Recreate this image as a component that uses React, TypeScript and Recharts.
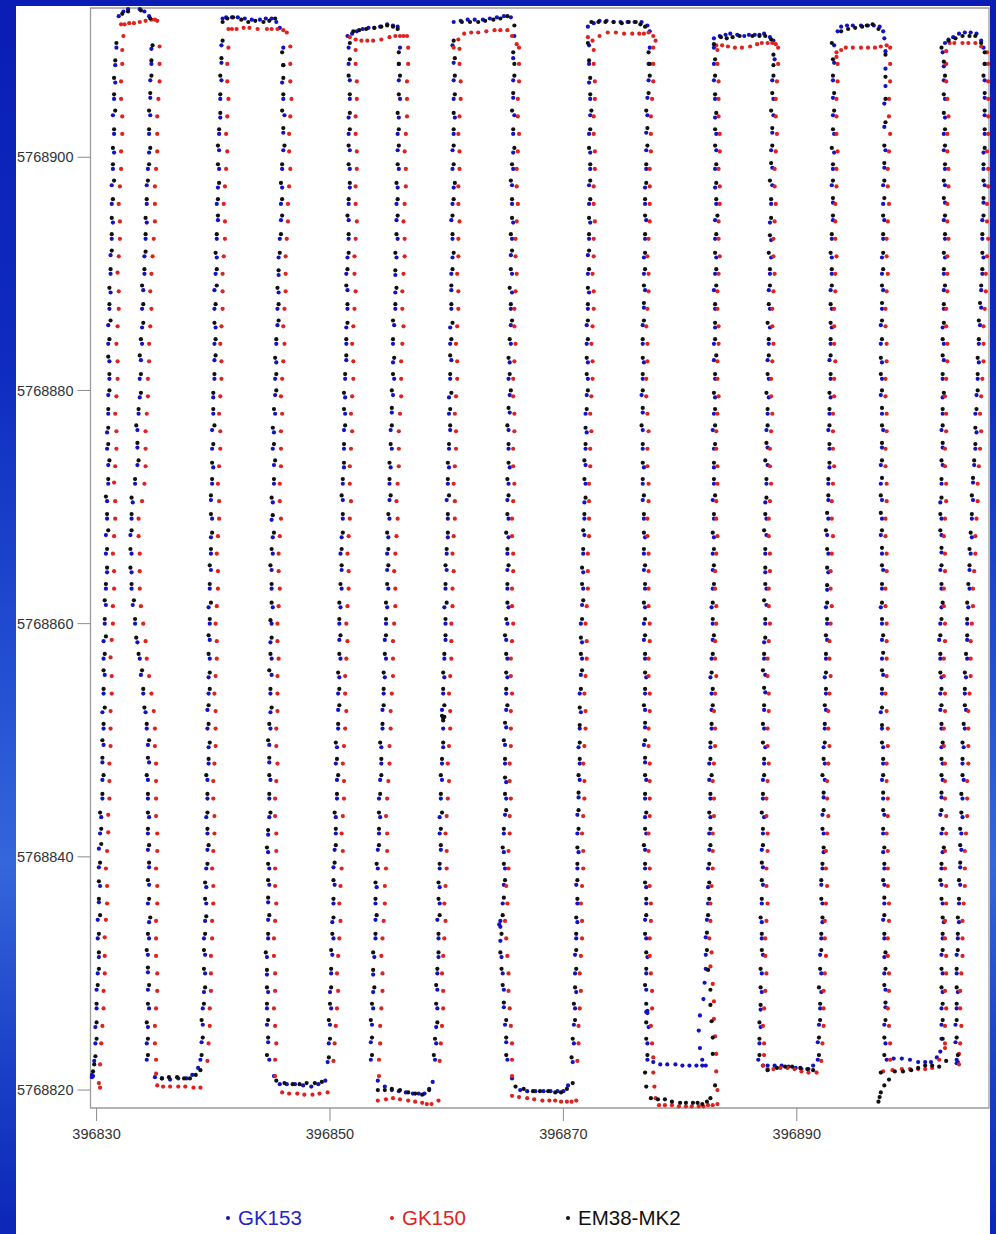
import React from 'react';
import { ScatterChart, Scatter, XAxis, YAxis, ReferenceArea, Legend } from 'recharts';

// Local grid origin (Gauss-Krueger easting / northing). Point values below are decimetres from it.
const EAST_ORIGIN = 396800;
const NORTH_ORIGIN = 5768800;

const X_TICKS = [396830, 396850, 396870, 396890];
const Y_TICKS = [5768820, 5768840, 5768860, 5768880, 5768900];
const X_RANGE: [number, number] = [396829.48, 396906.47];
const Y_RANGE: [number, number] = [5768818.46, 5768912.8];

const SERIES_NAMES = ['GK153', 'GK150', 'EM38-MK2'];
const SERIES_COLORS = ['#1212c4', '#e0221e', '#101010'];
const LEGEND_TEXT_COLORS = ['#2424c8', '#e0221e', '#101010'];

// GK153 readings [easting dm, northing dm]
const GK153: number[][] = [
  [296,211],[297,212],[296,213],
  [298,225],[299,254],[300,286],[302,314],[301,346],[303,375],[302,407],[304,434],[305,466],[306,496],[305,524],[307,556],[306,585],[308,616],[309,644],[308,676],[309,705],[310,736],[309,764],[310,796],[311,825],[310,856],[312,884],[312,916],[314,944],[313,976],[315,1004],[314,1036],[316,1064],[317,1094],
  [319,1121],[327,1127],[337,1127],[345,1121],
  [347,1093],[346,1066],[346,1036],[345,1004],[343,976],[343,944],[341,915],[340,886],[339,854],[338,826],[337,794],[335,766],[335,736],[331,704],[329,676],[330,644],[331,616],[335,584],[338,556],[342,524],[344,496],[344,466],[345,434],[344,406],[345,376],[345,344],[344,316],[344,286],[344,254],[343,226],
  [350,211],[363,209],[377,210],[387,219],
  [389,226],[391,256],[392,284],[393,316],[393,345],[394,374],[395,406],[394,434],[395,466],[396,494],[395,526],[396,554],[397,586],[396,614],[398,646],[398,674],[398,706],[400,734],[399,766],[400,794],[401,826],[402,854],[401,886],[403,914],[404,946],[404,974],[405,1006],[406,1034],[407,1066],[407,1096],
  [408,1119],[416,1120],[427,1119],[440,1118],[450,1119],[457,1111],
  [460,1094],[459,1064],[461,1036],[460,1006],[459,974],[458,946],[456,914],[456,884],[455,856],[454,824],[453,796],[452,764],[452,736],[451,704],[451,674],[450,646],[451,614],[449,584],[450,556],[449,524],[448,496],[449,466],[448,434],[447,404],[448,376],[447,346],[446,314],[447,284],[446,256],[448,226],
  [457,205],[470,205],[484,203],[496,208],
  [498,224],[500,256],[500,284],[502,316],[502,344],[504,376],[504,406],[505,434],[506,466],[506,494],[507,526],[508,554],[508,586],[509,614],[510,646],[510,674],[511,706],[512,734],[512,766],[513,794],[514,826],[514,854],[515,886],[515,914],[516,946],[517,974],[517,1006],[516,1034],[517,1066],[516,1094],
  [515,1104],[523,1108],[533,1111],[543,1112],[549,1114],[558,1112],
  [560,1094],[559,1066],[559,1034],[558,1006],[558,974],[557,946],[557,914],[556,884],[555,856],[554,824],[554,796],[552,766],[552,734],[551,706],[550,674],[549,646],[549,614],[547,586],[547,554],[545,526],[544,494],[543,466],[543,434],[541,406],[540,374],[539,346],[538,314],[537,284],[536,256],[535,226],
  [547,203],[559,199],[571,197],[581,197],[588,207],
  [590,226],[591,254],[592,286],[593,314],[592,346],[594,374],[595,406],[594,434],[596,466],[597,494],[596,526],[598,554],[599,586],[598,614],[600,646],[601,674],[600,706],[602,734],[603,766],[602,794],[604,826],[603,854],[604,886],[605,914],[604,946],[606,974],[605,1006],[607,1034],[606,1066],[605,1096],
  [606,1116],[618,1118],[631,1118],[643,1120],[655,1120],
  [658,1104],[657,1066],[658,1036],[657,1004],[656,976],[657,944],[655,916],[656,884],[655,856],[654,824],[654,796],[653,766],[654,734],[652,706],[653,674],[652,646],[653,614],[651,586],[652,554],[651,526],[650,496],[651,464],[650,436],[649,404],[649,376],[646,345],[645,342],[646,340],[647,314],[649,286],[650,256],[652,226],
  [663,200],[676,199],[689,199],[700,199],
  [708,224],[709,256],[711,284],[710,316],[712,344],[711,376],[713,404],[712,436],[714,466],[713,494],[715,524],[715,556],[716,584],[716,616],[717,644],[718,676],[718,704],[719,736],[720,764],[720,796],[721,824],[720,856],[722,884],[721,916],[723,944],[722,976],[723,1004],[723,1036],[722,1064],[722,1096],
  [721,1112],[731,1117],[743,1116],[755,1116],[767,1116],[774,1108],
  [774,1094],[773,1066],[772,1036],[771,1006],[770,974],[771,946],[769,914],[770,886],[768,856],[769,824],[767,796],[768,766],[769,734],[768,706],[770,674],[769,646],[770,614],[769,586],[771,554],[770,526],[769,496],[771,466],[770,434],[770,406],[771,374],[770,346],[772,314],[771,286],[772,268],[771,267],[772,266],[773,254],[772,226],
  [783,222],[796,222],[808,221],[819,221],[822,221],
  [819,226],[817,236],[816,251],[817,264],[820,278],[821,292],[822,316],[823,346],[824,374],[825,406],[826,434],[825,466],[826,494],[827,526],[826,554],[828,586],[827,614],[828,646],[829,674],[828,706],[829,734],[828,766],[830,794],[829,826],[830,854],[829,886],[831,914],[830,946],[830,974],[831,1006],[830,1034],[829,1066],[829,1094],
  [829,1102],[834,1104],[843,1106],[855,1104],[864,1105],[872,1106],[880,1100],
  [881,1084],[879,1066],[880,1036],[878,1006],[879,976],[877,944],[878,914],[876,886],[877,854],[875,826],[876,794],[874,766],[875,736],[873,704],[874,676],[873,644],[874,616],[872,584],[873,556],[872,526],[873,494],[871,466],[872,434],[870,406],[871,376],[870,344],[871,316],[870,284],[869,254],[867,226],
  [875,221],[887,221],[899,219],[910,218],[918,226],
  [919,256],[921,284],[920,316],[922,344],[921,376],[923,404],[922,436],[924,466],[923,494],[925,526],[924,554],[926,586],[925,614],[927,644],[926,676],[927,706],[928,734],[927,766],[929,794],[928,826],[930,854],[929,886],[930,914],[931,946],[930,976],[932,1004],[931,1036],[931,1066],[932,1096],
  [938,1112],[948,1113],[961,1113],[971,1112],[975,1102],
  [976,1076],[975,1046],[976,1006],[974,976],[975,946],[973,914],[974,886],[972,856],[973,824],[972,796],[974,766],[972,736],[973,706],[972,676],[974,646],[972,614],[973,586],[974,556],[972,524],[974,494],[973,466],[975,436],[974,404],[975,376],[974,346],[975,314],[976,286],[975,256],[977,226],
  [990,227],[1004,224],[1015,224],[1023,233],
  [1024,256],[1025,284],[1024,316],[1026,344],[1024,376],[1025,404],[1023,436],[1025,466],[1024,494],[1023,526],[1024,554],[1022,586],[1024,614],[1023,646],[1024,676],[1023,704],[1025,736],[1024,766],[1025,794],[1026,826],[1025,854],[1026,886],[1027,914],[1026,946],[1027,976],[1026,1006],[1027,1034],[1026,1066],[1025,1090],
  [1027,1098],[1034,1103],[1044,1107],[1054,1106],[1060,1094],
  [1061,1066],[1061,1036],[1060,1004],[1061,976],[1059,946],[1060,914],[1058,886],[1057,856],[1056,824],[1054,796],[1054,764],[1052,736],[1051,706],[1050,674],[1048,646],[1047,614],[1046,586],[1045,554],[1045,526],[1043,494],[1043,466],[1042,434],[1041,406],[1040,376],[1039,344],[1037,316],[1038,284],[1036,256],[1037,226],[1038,224],[1037,223],
];

// GK153 readings lying between those above [easting dm, northing dm]
const GK153_B: number[][] = [
  [299,240],[300,270],[301,300],[301,330],[302,361],[302,391],[303,420],[305,450],[305,481],[306,510],[306,540],[306,570],[307,600],[308,630],[308,660],[309,690],[310,720],[309,750],[310,780],[311,810],[310,840],[311,870],[312,900],[313,930],[313,960],[314,990],[315,1020],[315,1050],[316,1079],
  [323,1125],[341,1125],
  [347,1080],[346,1051],[345,1020],[344,990],[343,960],[342,930],[341,900],[339,870],[339,840],[337,810],[336,780],[335,751],[333,720],[330,690],[330,660],[330,630],[333,600],[337,570],[340,540],[343,510],[345,481],[344,450],[344,420],[345,391],[344,360],[345,330],[344,301],[345,270],[343,240],
  [356,210],[370,210],[382,213],
  [390,241],[391,270],[393,300],[392,330],[394,360],[394,390],[395,420],[395,450],[396,480],[395,510],[396,540],[397,570],[397,600],[397,630],[398,660],[399,690],[399,720],[399,750],[400,780],[401,810],[401,840],[401,870],[402,900],[403,930],[403,960],[405,990],[405,1020],[406,1050],[407,1081],
  [411,1120],[421,1120],[433,1118],[445,1119],[454,1116],
  [460,1079],[460,1050],[460,1021],[459,990],[458,960],[457,930],[456,899],[455,870],[454,840],[453,810],[453,780],[451,750],[452,720],[450,689],[451,660],[450,630],[450,600],[450,570],[449,540],[449,510],[448,481],[448,450],[447,419],[448,390],[447,361],[447,330],[446,299],[446,270],[447,241],
  [452,212],[463,205],[477,204],[490,205],
  [499,240],[501,270],[501,300],[503,330],[503,360],[503,391],[505,420],[506,450],[505,480],[507,510],[507,540],[509,570],[508,600],[510,630],[509,660],[511,690],[511,720],[512,750],[513,780],[513,810],[514,840],[515,870],[514,900],[516,930],[516,960],[517,990],[516,1020],[517,1050],[516,1080],
  [519,1106],[528,1110],[538,1111],[554,1113],
  [559,1080],[560,1050],[558,1020],[559,990],[557,960],[558,930],[556,899],[556,870],[554,840],[555,810],[553,781],[553,750],[551,720],[551,690],[549,660],[550,630],[548,600],[548,570],[546,540],[545,510],[544,480],[542,450],[542,420],[541,390],[539,360],[539,330],[537,299],[537,270],[535,241],
  [541,208],[553,200],[565,198],[576,197],[585,201],
  [591,240],[592,270],[592,300],[593,330],[594,360],[594,390],[594,420],[595,450],[596,480],[597,510],[597,540],[598,570],[599,600],[599,630],[600,660],[601,690],[601,720],[602,750],[602,780],[603,810],[603,840],[604,870],[604,900],[605,930],[605,960],[605,990],[606,1020],[606,1050],[606,1081],
  [612,1117],[624,1118],[637,1119],[649,1121],
  [657,1085],[657,1051],[657,1020],[657,990],[656,960],[656,930],[656,900],[655,870],[655,840],[653,810],[654,781],[653,750],[653,720],[653,690],[652,660],[652,630],[652,600],[652,570],[651,540],[651,511],[650,480],[651,450],[649,420],[650,390],[648,360],[646,328],[648,300],[649,271],[651,241],
  [656,210],[669,199],[683,199],[695,199],[704,204],
  [709,240],[710,270],[710,300],[711,330],[712,360],[712,390],[712,420],[713,451],[714,480],[714,510],[714,540],[716,570],[715,600],[717,630],[717,660],[718,690],[719,720],[719,750],[719,780],[721,810],[720,840],[721,870],[721,900],[722,930],[722,960],[723,990],[722,1020],[723,1050],[722,1080],
  [726,1115],[737,1117],[749,1116],[761,1116],[772,1113],
  [773,1080],[772,1051],[771,1021],[771,990],[770,960],[770,930],[769,900],[769,871],[768,840],[768,810],[768,781],[768,750],[768,720],[769,690],[769,660],[770,630],[769,600],[770,570],[770,540],[770,511],[770,481],[770,450],[771,420],[770,390],[771,360],[771,330],[771,300],[772,240],
  [777,224],[789,222],[802,221],[814,221],
  [822,304],[822,331],[824,360],[824,390],[825,420],[826,450],[825,480],[827,510],[827,540],[827,570],[828,600],[828,630],[828,660],[829,690],[829,720],[829,750],[829,780],[830,810],[829,840],[830,870],[830,900],[830,930],[831,960],[830,990],[831,1020],[830,1050],[829,1080],
  [839,1105],[849,1105],[859,1105],[868,1105],[877,1103],
  [880,1050],[879,1021],[879,991],[878,960],[878,929],[877,900],[877,870],[876,840],[876,810],[875,780],[875,751],[874,720],[874,690],[873,660],[874,630],[873,600],[872,570],[873,541],[872,510],[872,480],[871,450],[871,420],[871,391],[870,360],[870,330],[870,300],[869,269],[868,240],
  [871,221],[881,221],[893,220],[904,218],[914,221],
  [918,241],[920,270],[921,300],[921,330],[922,360],[922,390],[923,420],[923,451],[924,480],[924,510],[925,540],[925,570],[926,600],[926,629],[927,660],[927,690],[927,720],[928,750],[928,780],[929,810],[929,840],[930,870],[930,900],[930,930],[931,961],[931,990],[932,1020],[931,1051],[932,1081],
  [935,1108],[943,1113],[955,1113],[966,1113],[974,1108],
  [976,1091],[976,1061],[975,1026],[975,991],[974,960],[974,930],[973,900],[973,870],[972,840],[973,810],[973,780],[973,751],[972,720],[973,690],[973,660],[973,630],[973,600],[973,570],[973,540],[973,510],[974,480],[974,450],[974,420],[975,390],[975,360],[975,330],[975,300],[976,271],[976,240],
  [983,227],[997,226],[1010,224],[1020,228],
  [1024,244],[1024,270],[1025,300],[1025,330],[1025,360],[1024,390],[1024,420],[1024,451],[1025,480],[1024,510],[1023,540],[1023,570],[1023,600],[1024,630],[1024,661],[1024,690],[1024,720],[1025,751],[1025,780],[1025,810],[1026,840],[1026,870],[1026,900],[1027,930],[1027,961],[1027,990],[1026,1020],[1027,1050],[1026,1078],
  [1030,1101],[1039,1106],[1049,1107],[1058,1100],
  [1061,1080],[1061,1051],[1061,1020],[1060,990],[1060,961],[1059,930],[1059,900],[1058,871],[1056,840],[1055,810],[1053,780],[1053,750],[1051,721],[1050,690],[1049,660],[1048,630],[1046,600],[1046,570],[1044,540],[1044,510],[1042,480],[1042,450],[1041,420],[1040,391],[1039,360],[1038,330],[1037,300],[1037,270],[1036,241],
];

// GK150 readings [easting dm, northing dm]
const GK150: number[][] = [
  [303,202],[302,206],
  [304,240],[306,270],[307,300],[307,331],[309,360],[308,390],[310,421],[311,450],[311,480],[312,510],[313,540],[312,571],[314,600],[315,630],[314,660],[316,690],[315,721],[317,750],[316,780],[318,810],[317,840],[319,870],[318,901],[320,930],[319,960],[321,990],[322,1020],[321,1050],[322,1080],[323,1104],
  [321,1114],[328,1115],[337,1116],[347,1118],[352,1117],
  [354,1080],[353,1050],[352,1020],[351,990],[350,960],[349,930],[347,900],[347,870],[345,840],[344,810],[343,780],[342,750],[341,720],[336,690],[337,660],[337,630],[340,600],[343,570],[347,540],[350,510],[351,480],[351,450],[352,420],[351,390],[352,360],[351,330],[352,300],[351,270],[350,240],[351,214],
  [352,204],[363,203],[376,203],[389,202],
  [396,240],[397,270],[398,300],[399,330],[400,360],[399,390],[401,420],[400,450],[401,480],[402,510],[401,540],[403,570],[402,600],[404,630],[403,660],[405,690],[404,720],[406,750],[405,780],[407,810],[406,840],[408,870],[408,900],[410,930],[409,960],[411,990],[411,1020],[413,1050],[412,1080],
  [413,1110],[420,1110],[431,1111],[446,1110],[455,1110],[463,1107],
  [466,1080],[467,1050],[465,1020],[466,990],[464,960],[463,930],[462,900],[461,870],[461,840],[459,810],[459,780],[458,750],[457,720],[458,690],[456,660],[457,630],[455,600],[456,570],[455,540],[454,510],[455,480],[453,450],[454,420],[453,390],[454,360],[452,330],[453,300],[452,270],[454,240],[453,212],
  [459,198],[472,197],[485,196],[498,198],
  [504,240],[506,270],[506,300],[508,330],[508,360],[510,390],[510,420],[512,450],[511,480],[513,510],[513,540],[514,570],[514,600],[516,630],[515,660],[517,690],[517,720],[518,750],[518,780],[520,810],[519,840],[521,870],[521,900],[522,930],[522,960],[523,990],[522,1020],[523,1050],[522,1080],
  [517,1103],[527,1100],[537,1100],[551,1103],[560,1104],[566,1104],
  [567,1080],[566,1050],[565,1020],[565,990],[564,960],[564,930],[563,900],[562,870],[562,840],[561,810],[560,780],[559,750],[558,720],[558,690],[556,660],[556,630],[555,600],[554,570],[553,540],[552,510],[551,480],[549,450],[549,420],[548,390],[547,360],[545,330],[545,300],[544,270],[543,240],[542,212],
  [541,191],[554,193],[567,191],[579,189],[587,188],[593,191],
  [595,240],[597,270],[596,300],[598,330],[598,360],[600,390],[599,420],[601,450],[601,480],[603,510],[602,540],[604,570],[604,600],[605,630],[605,660],[607,690],[606,720],[608,750],[607,780],[609,810],[608,840],[610,870],[609,900],[610,930],[610,960],[611,990],[610,1020],[612,1050],[611,1080],
  [606,1094],[615,1106],[627,1107],[641,1109],[652,1109],[660,1097],
  [662,1080],[661,1050],[662,1020],[660,990],[661,960],[659,930],[660,900],[658,870],[659,840],[657,810],[658,780],[657,750],[658,720],[656,690],[657,660],[656,630],[657,600],[655,570],[656,540],[655,510],[654,480],[655,450],[654,420],[653,390],[652,360],[651,330],[653,300],[654,270],[656,240],[656,212],
  [656,195],[669,193],[682,191],[693,191],[703,190],[711,191],
  [713,240],[714,270],[714,300],[716,330],[715,360],[717,390],[716,420],[718,450],[717,480],[719,510],[718,540],[720,570],[719,600],[721,630],[721,660],[722,690],[722,720],[723,750],[723,780],[725,810],[724,840],[726,870],[725,900],[726,930],[726,960],[727,990],[726,1020],[727,1050],[726,1080],
  [721,1103],[725,1100],[738,1107],[752,1106],[765,1106],[773,1107],[779,1100],
  [777,1080],[776,1050],[775,1020],[774,990],[774,960],[773,930],[773,900],[772,870],[772,840],[771,810],[772,780],[772,750],[773,720],[772,690],[773,660],[773,630],[774,600],[773,570],[774,540],[773,510],[774,480],[774,450],[773,420],[774,390],[775,360],[774,330],[775,300],[776,270],[776,240],[777,215],[778,203],[779,193],
  [782,187],[793,187],[805,186],[816,186],[824,187],[832,188],
  [832,200],[831,216],[831,231],[830,246],[829,261],[829,276],[828,291],[826,306],[825,330],[826,360],[828,390],[828,420],[829,450],[829,480],[830,510],[830,540],[830,570],[831,600],[830,630],[831,660],[831,690],[832,720],[831,750],[832,780],[832,810],[833,840],[832,870],[833,900],[833,930],[834,960],[833,990],[834,1020],[833,1050],[832,1080],
  [831,1096],[841,1095],[853,1094],[866,1097],[875,1098],[882,1097],
  [884,1080],[882,1050],[883,1020],[881,990],[882,960],[880,930],[881,900],[879,870],[880,840],[878,810],[879,780],[877,750],[878,720],[876,690],[877,660],[876,630],[877,600],[875,570],[876,540],[875,510],[876,480],[874,450],[875,420],[874,390],[875,360],[873,330],[874,300],[872,270],[872,240],[871,221],
  [880,218],[892,219],[904,216],[917,215],
  [922,240],[923,270],[924,300],[924,330],[925,360],[925,390],[926,420],[926,450],[927,480],[927,510],[928,540],[928,570],[929,600],[929,630],[930,660],[930,690],[931,720],[931,750],[931,780],[932,810],[932,840],[932,870],[933,900],[933,930],[933,960],[934,990],[934,1020],[934,1050],[935,1080],
  [934,1090],[942,1094],[955,1094],[967,1094],[977,1096],
  [980,1080],[979,1050],[980,1020],[978,990],[979,960],[977,930],[978,900],[976,870],[977,840],[976,810],[977,780],[976,750],[977,720],[976,690],[977,660],[976,630],[977,600],[977,570],[976,540],[978,510],[977,480],[978,450],[977,420],[978,390],[979,360],[978,330],[979,300],[978,270],[980,240],
  [974,216],[990,218],[1004,218],[1016,219],[1027,236],
  [1027,240],[1028,270],[1028,300],[1027,330],[1028,360],[1027,390],[1028,420],[1027,450],[1027,480],[1026,510],[1027,540],[1026,570],[1027,600],[1026,630],[1027,660],[1027,690],[1028,720],[1027,750],[1028,780],[1028,810],[1029,840],[1028,870],[1029,900],[1030,930],[1029,960],[1030,990],[1029,1020],[1029,1050],[1028,1080],
  [1028,1091],[1031,1098],[1042,1098],[1053,1098],[1063,1090],
  [1064,1080],[1064,1050],[1064,1020],[1064,990],[1063,960],[1064,930],[1062,900],[1061,870],[1060,840],[1059,810],[1057,780],[1057,750],[1055,720],[1054,690],[1053,660],[1051,630],[1050,600],[1049,570],[1048,540],[1047,510],[1047,480],[1046,450],[1045,420],[1044,390],[1043,360],[1042,330],[1041,300],[1040,270],[1040,240],[1039,222],
];

// GK150 readings lying between those above [easting dm, northing dm]
const GK150_B: number[][] = [
  [303,222],[305,255],[306,285],[307,315],[308,346],[309,375],[309,405],[310,436],[311,465],[312,495],[312,525],[313,555],[313,586],[314,615],[315,645],[315,675],[316,705],[316,735],[317,765],[317,795],[318,825],[318,855],[319,885],[319,915],[320,945],[320,975],[321,1005],[322,1035],[321,1065],[322,1092],
  [324,1114],[332,1115],[342,1117],[350,1118],
  [354,1095],[354,1065],[352,1035],[352,1005],[350,975],[350,945],[348,915],[346,885],[346,855],[345,825],[344,795],[342,765],[342,735],[339,705],[336,675],[337,645],[338,615],[342,585],[345,555],[349,525],[350,495],[351,465],[351,435],[352,405],[352,375],[351,345],[351,315],[352,285],[350,255],[351,226],
  [357,203],[370,203],[383,202],
  [395,225],[397,255],[398,285],[398,315],[399,345],[400,375],[400,405],[401,435],[400,465],[402,495],[402,525],[402,555],[403,585],[403,615],[404,645],[404,675],[405,705],[405,735],[406,765],[406,795],[407,825],[407,855],[408,885],[409,915],[410,945],[410,975],[412,1005],[412,1035],[412,1065],[413,1094],
  [416,1110],[426,1111],[438,1110],[450,1110],[460,1109],
  [466,1095],[466,1065],[466,1035],[465,1005],[465,975],[464,945],[462,915],[462,885],[460,855],[460,825],[458,795],[458,765],[458,735],[457,705],[457,675],[456,645],[456,615],[455,585],[455,555],[455,525],[454,495],[454,465],[453,435],[454,405],[453,375],[453,345],[452,315],[453,285],[453,255],[453,226],
  [465,197],[478,196],[491,197],
  [503,225],[505,255],[507,285],[507,315],[509,345],[509,375],[511,405],[511,435],[512,465],[512,495],[514,525],[513,555],[515,585],[515,615],[516,645],[516,675],[518,705],[517,735],[519,765],[519,795],[520,825],[520,855],[522,885],[521,915],[523,945],[522,975],[523,1005],[522,1035],[523,1065],[522,1092],
  [522,1101],[532,1100],[544,1101],[556,1104],[563,1104],
  [567,1094],[566,1065],[566,1035],[564,1005],[565,975],[563,945],[564,915],[562,885],[563,855],[561,825],[561,795],[559,765],[559,735],[557,705],[557,675],[555,645],[556,615],[554,585],[554,555],[552,525],[551,495],[550,465],[548,435],[549,405],[547,375],[546,345],[544,315],[545,285],[543,255],[542,226],
  [548,192],[560,192],[573,190],[583,188],
  [594,225],[596,255],[597,285],[597,315],[599,345],[599,375],[600,405],[600,435],[602,465],[602,495],[603,525],[603,555],[604,585],[605,615],[606,645],[606,675],[607,705],[607,735],[608,765],[608,795],[609,825],[609,855],[610,885],[610,915],[611,945],[610,975],[611,1005],[611,1035],[612,1065],[611,1093],
  [610,1101],[621,1107],[634,1108],[646,1109],[656,1104],
  [662,1094],[662,1065],[661,1035],[661,1005],[660,975],[660,945],[659,915],[659,885],[658,855],[658,825],[657,795],[658,765],[657,735],[657,705],[656,675],[657,645],[656,615],[656,585],[655,555],[655,525],[655,495],[654,465],[654,435],[653,405],[651,375],[650,345],[652,315],[653,285],[655,255],[656,226],
  [662,194],[675,192],[688,191],[698,190],[707,190],
  [712,225],[713,255],[715,285],[715,315],[716,345],[716,375],[717,405],[717,435],[718,465],[718,495],[719,525],[719,555],[720,585],[720,615],[721,645],[722,675],[722,705],[723,735],[724,765],[724,795],[725,825],[725,855],[726,885],[726,915],[727,945],[726,975],[727,1005],[726,1035],[727,1065],[726,1092],
  [731,1104],[745,1107],[759,1106],[769,1106],[777,1104],
  [777,1094],[777,1065],[775,1035],[775,1005],[774,975],[774,945],[772,915],[773,885],[771,855],[772,825],[771,795],[773,765],[772,735],[773,705],[772,675],[773,645],[773,615],[774,585],[773,555],[774,525],[773,495],[774,465],[774,435],[773,405],[774,375],[775,345],[774,315],[776,285],[775,255],[777,228],
  [787,187],[799,186],[810,186],[820,186],[828,187],
  [827,318],[826,345],[827,375],[828,405],[829,435],[828,465],[830,495],[829,525],[831,555],[830,585],[831,615],[830,645],[832,675],[831,705],[832,735],[831,765],[833,795],[832,825],[833,855],[832,885],[834,915],[833,945],[834,975],[834,1005],[833,1035],[833,1065],[832,1092],
  [836,1096],[847,1094],[860,1095],[870,1098],[879,1098],
  [884,1094],[883,1065],[882,1035],[882,1005],[881,975],[881,945],[880,915],[880,885],[879,855],[879,825],[878,795],[878,765],[877,735],[877,705],[876,675],[877,645],[876,615],[876,585],[875,555],[876,525],[875,495],[875,465],[874,435],[875,405],[874,375],[874,345],[873,315],[873,285],[871,255],[872,230],
  [875,218],[886,219],[898,218],[910,215],
  [921,225],[923,255],[923,285],[925,315],[924,345],[926,375],[925,405],[927,435],[926,465],[928,495],[927,525],[929,555],[928,585],[930,615],[929,645],[931,675],[930,705],[932,735],[931,765],[932,795],[933,825],[932,855],[933,885],[934,915],[933,945],[934,975],[935,1005],[934,1035],[935,1065],[934,1086],
  [938,1092],[948,1094],[961,1094],[972,1095],
  [980,1094],[980,1065],[979,1035],[979,1005],[978,975],[978,945],[977,915],[977,885],[976,855],[977,825],[976,795],[977,765],[976,735],[977,705],[976,675],[977,645],[976,615],[977,585],[977,555],[977,525],[978,495],[977,465],[978,435],[978,405],[978,375],[979,345],[978,315],[979,285],[979,255],[980,226],
  [982,217],[997,218],[1010,218],[1022,226],
  [1027,255],[1027,285],[1028,315],[1027,345],[1028,375],[1027,405],[1028,435],[1027,465],[1026,495],[1027,525],[1026,555],[1027,585],[1026,615],[1027,645],[1026,675],[1028,705],[1027,735],[1028,765],[1027,795],[1029,825],[1028,855],[1029,885],[1029,915],[1029,945],[1030,975],[1029,1005],[1030,1035],[1028,1065],
  [1035,1098],[1047,1098],[1058,1095],
  [1064,1065],[1064,1035],[1063,1005],[1064,975],[1063,945],[1063,915],[1062,885],[1060,855],[1060,825],[1058,795],[1058,765],[1056,735],[1055,705],[1053,675],[1052,645],[1051,615],[1049,585],[1049,555],[1047,525],[1047,495],[1046,465],[1046,435],[1044,405],[1044,375],[1042,345],[1042,315],[1040,285],[1041,255],[1039,231],
];

// EM38-MK2 readings [easting dm, northing dm]
const EM38: number[][] = [
  [297,216],[298,222],
  [299,229],[300,258],[301,290],[302,318],[303,350],[302,379],[304,411],[303,438],[306,470],[305,500],[307,528],[306,560],[308,589],[307,620],[309,648],[310,680],[308,709],[311,740],[310,768],[311,800],[310,829],[312,860],[311,888],[313,920],[313,948],[315,980],[314,1008],[316,1040],[315,1068],[317,1098],
  [322,1123],[346,1119],
  [348,1096],[347,1070],[345,1040],[346,1008],[344,980],[342,948],[342,919],[339,890],[340,858],[337,830],[338,798],[334,770],[336,740],[330,708],[330,680],[329,648],[332,620],[334,588],[339,560],[341,528],[345,500],[343,470],[344,438],[345,410],[344,380],[346,348],[343,320],[345,290],[343,258],[344,230],
  [356,210],[369,211],[380,210],[389,217],
  [390,230],[390,260],[393,288],[392,320],[394,349],[393,378],[396,410],[395,438],[394,470],[397,498],[396,530],[397,558],[396,590],[398,618],[397,650],[399,678],[398,710],[399,738],[401,770],[400,798],[402,830],[401,858],[403,890],[402,918],[404,950],[405,978],[404,1010],[406,1038],[406,1070],[408,1100],
  [408,1116],[417,1120],[430,1116],[443,1116],[453,1119],
  [459,1090],[460,1068],[459,1040],[461,1010],[458,978],[459,950],[457,918],[455,888],[456,860],[453,828],[454,800],[451,768],[453,740],[450,708],[452,678],[449,650],[450,618],[450,588],[448,560],[450,528],[447,500],[448,470],[449,438],[446,408],[447,380],[448,350],[445,318],[446,288],[447,260],[446,230],
  [454,208],[468,205],[480,206],[493,207],
  [499,228],[499,260],[501,288],[501,320],[503,348],[503,380],[505,410],[504,438],[507,470],[505,498],[508,530],[507,558],[509,590],[508,618],[510,650],[511,678],[510,710],[512,738],[513,770],[512,798],[514,830],[515,858],[514,890],[516,918],[515,950],[517,978],[516,1010],[517,1038],[516,1070],[517,1098],
  [520,1108],[538,1111],[549,1113],[558,1110],
  [559,1090],[560,1070],[558,1038],[559,1010],[557,978],[558,950],[556,918],[557,888],[554,860],[555,828],[553,800],[553,770],[551,738],[552,710],[549,678],[550,650],[548,618],[548,590],[546,558],[546,530],[543,498],[544,470],[542,438],[542,410],[539,378],[540,350],[537,318],[538,288],[535,260],[536,230],
  [541,200],[553,201],[567,198],[579,196],
  [589,230],[592,258],[591,290],[593,318],[594,350],[593,378],[595,410],[596,438],[595,470],[597,498],[597,519],[598,520],[597,517],[596,521],[598,530],[597,558],[599,590],[600,618],[599,650],[601,678],[602,710],[601,738],[603,770],[604,798],[603,830],[605,858],[604,890],[606,918],[605,950],[607,978],[606,1010],[606,1038],[607,1070],[606,1100],
  [613,1116],[627,1116],[640,1118],[652,1121],[658,1113],
  [657,1090],[658,1070],[656,1040],[658,1008],[655,980],[656,948],[656,920],[654,888],[656,860],[653,828],[655,800],[652,770],[653,738],[653,710],[651,678],[653,650],[652,618],[650,590],[651,558],[652,530],[649,500],[650,468],[651,440],[648,408],[650,380],[648,350],[646,318],[648,290],[651,260],[651,230],
  [659,203],[674,199],[687,199],[698,198],[708,206],
  [707,228],[710,260],[710,288],[711,320],[711,348],[712,380],[712,408],[713,440],[713,470],[714,498],[714,528],[716,560],[715,588],[717,620],[716,648],[717,680],[719,708],[718,740],[719,768],[721,800],[720,828],[721,860],[721,888],[722,920],[722,948],[723,980],[722,1008],[724,1040],[723,1068],[721,1098],
  [724,1116],[736,1116],[750,1115],[762,1116],[770,1112],
  [773,1090],[774,1070],[771,1040],[772,1010],[771,978],[770,950],[770,918],[769,890],[769,860],[768,828],[768,800],[767,770],[768,738],[769,710],[769,678],[770,650],[769,618],[770,590],[770,558],[769,530],[770,500],[770,470],[771,438],[769,410],[770,378],[771,350],[771,318],[770,290],[771,258],[772,230],[770,215],[771,203],[775,193],
  [787,192],[800,189],[811,189],[819,188],[826,193],
  [830,204],[828,231],[828,245],[827,259],[826,273],[826,286],[823,320],[824,350],[825,378],[826,410],[825,438],[827,470],[826,498],[828,530],[827,558],[829,590],[828,618],[829,650],[828,678],[830,710],[829,738],[830,770],[829,798],[831,830],[830,858],[831,890],[830,918],[832,950],[831,978],[830,1010],[831,1038],[830,1070],[829,1097],
  [840,1102],[851,1104],[873,1104],[878,1101],
  [880,1088],[880,1070],[878,1040],[879,1010],[877,980],[878,948],[876,918],[877,890],[875,858],[876,830],[874,798],[875,770],[873,740],[874,708],[872,680],[873,648],[872,620],[873,588],[871,560],[872,530],[871,498],[872,470],[870,438],[871,410],[870,380],[869,348],[870,320],[869,288],[868,258],[868,230],
  [875,217],[890,220],[903,219],[914,217],
  [919,230],[920,260],[919,288],[921,320],[922,348],[921,380],[923,408],[923,440],[922,470],[924,498],[924,530],[925,558],[925,590],[926,618],[926,648],[925,680],[927,710],[928,738],[928,770],[928,798],[929,830],[929,858],[930,890],[929,918],[931,950],[931,980],[930,1008],[932,1040],[931,1070],[930,1098],
  [944,1110],[956,1112],[965,1114],
  [976,1088],[976,1050],[975,1010],[975,980],[974,950],[974,918],[973,890],[973,860],[972,828],[973,800],[973,770],[973,740],[972,710],[973,680],[973,650],[973,618],[974,590],[973,560],[973,528],[973,498],[974,470],[974,440],[975,408],[974,380],[975,350],[976,318],[975,290],[976,260],[975,230],[972,215],[979,209],[975,204],[972,198],[971,194],[970,190],
  [984,216],[998,217],[1010,221],[1022,220],[1028,225],
  [1025,260],[1024,288],[1025,320],[1025,348],[1023,380],[1026,408],[1024,440],[1024,470],[1025,498],[1024,530],[1023,558],[1023,590],[1025,618],[1024,650],[1023,680],[1024,708],[1024,740],[1025,770],[1026,798],[1025,830],[1026,858],[1027,890],[1026,918],[1027,950],[1026,980],[1027,1010],[1026,1038],[1027,1070],[1024,1094],
  [1030,1100],[1042,1104],[1053,1104],
  [1061,1090],[1060,1070],[1061,1040],[1061,1008],[1060,980],[1060,950],[1059,918],[1058,890],[1056,860],[1055,828],[1055,800],[1053,768],[1052,740],[1050,710],[1049,678],[1048,650],[1046,618],[1046,590],[1044,558],[1044,530],[1042,498],[1042,470],[1041,438],[1040,410],[1039,380],[1038,348],[1038,320],[1037,288],[1037,260],[1038,230],
];

// EM38-MK2 readings lying between those above [easting dm, northing dm]
const EM38_B: number[][] = [
  [300,244],[300,274],[302,304],[302,334],[302,364],[303,395],[304,424],[305,454],[305,485],[306,514],[306,544],[307,574],[307,604],[308,634],[309,664],[309,694],[310,724],[310,754],[310,784],[311,814],[311,844],[311,874],[312,904],[313,934],[314,964],[314,994],[315,1024],[315,1054],[316,1083],
  [327,1125],[338,1126],
  [347,1083],[346,1055],[345,1024],[345,994],[343,964],[342,934],[341,904],[340,874],[338,844],[338,814],[336,784],[335,755],[333,724],[330,694],[329,664],[330,634],[333,604],[336,574],[340,544],[343,514],[344,485],[344,454],[344,424],[345,395],[345,364],[344,334],[344,305],[344,274],[344,244],
  [362,211],[375,210],[385,213],
  [391,245],[392,274],[392,304],[393,334],[393,364],[395,394],[395,424],[395,454],[396,484],[396,514],[397,544],[396,574],[397,604],[397,634],[398,664],[398,694],[399,724],[400,754],[400,784],[401,814],[402,844],[402,874],[403,904],[403,934],[404,964],[404,994],[405,1024],[406,1054],[407,1085],
  [412,1119],[424,1118],[436,1117],[448,1117],
  [460,1079],[460,1054],[460,1025],[459,994],[459,964],[458,934],[456,903],[456,874],[454,844],[454,814],[452,784],[452,754],[452,724],[451,693],[450,664],[450,634],[449,603],[449,574],[449,544],[448,514],[448,485],[448,454],[447,423],[447,394],[447,365],[447,334],[446,303],[446,274],[447,245],
  [461,206],[474,205],[487,206],
  [500,244],[500,274],[501,304],[502,334],[503,364],[504,395],[505,424],[506,454],[506,484],[507,514],[508,544],[508,574],[508,604],[509,634],[510,664],[511,694],[511,724],[512,754],[512,784],[513,814],[514,844],[515,874],[515,904],[516,934],[516,964],[516,994],[517,1024],[517,1054],[517,1084],
  [525,1109],[531,1110],[544,1112],[554,1112],
  [559,1080],[559,1054],[559,1024],[558,994],[558,964],[557,934],[556,903],[556,874],[554,844],[554,814],[553,785],[552,754],[551,724],[550,694],[550,664],[549,634],[548,604],[547,574],[546,544],[545,514],[544,484],[543,454],[542,424],[540,394],[539,364],[539,334],[537,303],[536,274],[536,245],
  [547,200],[560,200],[573,197],[585,200],
  [590,244],[591,274],[592,304],[593,334],[593,364],[594,394],[595,424],[595,454],[596,484],[597,544],[598,574],[599,604],[599,634],[600,664],[601,694],[601,724],[602,754],[603,784],[603,814],[604,844],[604,874],[605,904],[605,934],[606,964],[606,994],[606,1024],[607,1054],[607,1085],
  [620,1116],[633,1117],[646,1119],
  [658,1080],[657,1055],[657,1024],[656,994],[656,964],[655,934],[655,904],[655,874],[654,844],[654,814],[653,785],[653,754],[652,724],[652,694],[652,664],[652,634],[651,604],[651,574],[651,544],[650,515],[650,484],[650,454],[649,424],[649,394],[649,365],[647,334],[647,304],[649,275],[651,245],
  [666,201],[680,199],[693,198],[703,201],
  [708,244],[709,274],[711,304],[711,334],[712,364],[712,394],[713,424],[713,455],[714,484],[714,513],[715,544],[715,574],[716,604],[716,634],[717,664],[718,694],[718,724],[719,754],[720,784],[720,814],[721,844],[721,874],[722,904],[722,934],[723,964],[723,994],[723,1024],[723,1054],[722,1083],
  [730,1116],[743,1116],[756,1116],[766,1114],
  [774,1080],[773,1055],[772,1025],[771,994],[770,964],[770,934],[770,904],[769,875],[768,844],[768,814],[768,785],[768,754],[768,724],[769,694],[769,664],[770,634],[770,604],[770,574],[770,544],[770,515],[770,485],[770,454],[770,424],[770,394],[771,364],[770,334],[771,304],[771,274],[771,244],
  [781,192],[793,190],[805,189],[815,189],[823,190],
  [824,303],[823,335],[825,364],[825,394],[826,424],[826,454],[826,484],[827,514],[828,544],[828,574],[828,604],[829,634],[829,664],[829,694],[829,724],[830,754],[830,784],[830,814],[830,844],[830,874],[831,904],[831,934],[831,964],[831,994],[830,1024],[830,1054],[830,1084],
  [835,1103],[845,1103],[862,1104],[868,1104],
  [880,1079],[879,1055],[879,1025],[878,995],[878,964],[877,933],[877,904],[876,874],[876,844],[875,814],[875,784],[874,755],[874,724],[873,694],[873,664],[873,634],[873,604],[872,574],[872,545],[871,514],[872,484],[871,454],[871,424],[870,395],[870,364],[870,334],[869,304],[869,273],[868,244],
  [883,219],[896,220],[909,218],
  [919,245],[920,274],[920,304],[921,334],[921,364],[922,394],[922,424],[923,455],[923,484],[924,514],[925,544],[925,574],[926,604],[926,633],[926,664],[926,695],[927,724],[928,754],[928,784],[929,814],[929,844],[929,874],[930,904],[930,934],[931,965],[931,994],[931,1024],[932,1055],[931,1084],
  [938,1108],[950,1111],[960,1113],[970,1110],
  [976,1069],[976,1030],[975,995],[975,965],[974,934],[974,904],[973,875],[973,844],[972,814],[973,785],[973,755],[973,725],[972,695],[973,665],[973,634],[973,604],[974,575],[973,544],[973,513],[974,484],[974,455],[974,424],[975,394],[975,365],[975,334],[976,304],[976,275],[975,245],
  [991,216],[1004,219],[1016,221],
  [1025,244],[1025,274],[1024,304],[1025,334],[1024,364],[1024,394],[1025,424],[1024,455],[1024,484],[1024,514],[1024,544],[1023,574],[1024,604],[1024,634],[1024,665],[1023,694],[1024,724],[1025,755],[1025,784],[1025,814],[1025,844],[1026,874],[1026,904],[1027,934],[1026,965],[1027,994],[1027,1024],[1026,1054],[1026,1082],
  [1036,1102],[1048,1104],[1058,1098],
  [1061,1080],[1061,1055],[1061,1024],[1060,994],[1060,965],[1059,934],[1059,904],[1057,875],[1056,844],[1055,814],[1054,784],[1053,754],[1051,725],[1050,694],[1048,664],[1047,634],[1046,604],[1045,574],[1044,544],[1043,514],[1042,484],[1041,454],[1040,424],[1040,395],[1039,364],[1038,334],[1037,304],[1037,274],[1037,245],
];

const FONT = '"Liberation Sans", Arial, Helvetica, sans-serif';

const toPoints = (arr: number[][]) =>
  arr.map(([e, n]) => ({ x: EAST_ORIGIN + e / 10, y: NORTH_ORIGIN + n / 10 }));

const SERIES_DATA = [
  toPoints(GK153.concat(GK153_B)),
  toPoints(GK150.concat(GK150_B)),
  toPoints(EM38.concat(EM38_B)),
];

const makeDot = (color: string) => (props: any) => {
  if (props == null || props.cx == null || props.cy == null) return <g />;
  return <circle cx={props.cx} cy={props.cy} r={2.1} fill={color} stroke="none" />;
};

const LEGEND_LEFT = [226, 390, 566];

const renderLegend = () => (
  <div style={{ position: 'relative', width: 996, height: 26, fontFamily: FONT, fontSize: 20.5, lineHeight: '26px' }}>
    {SERIES_NAMES.map((name, i) => (
      <div
        key={name}
        style={{
          position: 'absolute',
          left: LEGEND_LEFT[i],
          top: 0,
          height: 26,
          display: 'flex',
          alignItems: 'center',
          color: LEGEND_TEXT_COLORS[i],
          whiteSpace: 'nowrap',
        }}
      >
        <span
          style={{
            display: 'inline-block',
            width: 4,
            height: 4,
            borderRadius: 2,
            background: SERIES_COLORS[i],
            marginRight: 8,
          }}
        />
        <span>{name}</span>
      </div>
    ))}
  </div>
);

export default function App() {
  return (
    <div
      style={{
        position: 'absolute',
        left: 0,
        top: 0,
        width: 996,
        height: 1234,
        overflow: 'hidden',
        background:
          'linear-gradient(180deg, #0a1db4 0%, #0f2cc0 30%, #2350d2 55%, #3566dc 70%, #1c43c8 85%, #0b26b8 100%)',
      }}
    >
      <div style={{ position: 'absolute', left: 16, top: 6, width: 974, height: 1228, background: '#ffffff' }} />
      <div style={{ position: 'absolute', left: 0, top: 0 }}>
        <ScatterChart width={996} height={1234} margin={{ top: 8, right: 7, bottom: 96, left: 30.5 }}>
          <XAxis
            type="number"
            dataKey="x"
            domain={X_RANGE}
            ticks={X_TICKS}
            interval={0}
            height={30}
            tickSize={13}
            tickMargin={8}
            axisLine={false}
            tickLine={{ stroke: '#8c8c8c' }}
            tick={{ fill: '#333333', fontSize: 14.5, fontFamily: FONT }}
          />
          <YAxis
            type="number"
            dataKey="y"
            domain={Y_RANGE}
            ticks={Y_TICKS}
            interval={0}
            width={60}
            tickSize={13}
            tickMargin={4}
            axisLine={false}
            tickLine={{ stroke: '#8c8c8c' }}
            tick={{ fill: '#333333', fontSize: 14.5, fontFamily: FONT }}
          />
          <ReferenceArea
            x1={X_RANGE[0]}
            x2={X_RANGE[1]}
            y1={Y_RANGE[0]}
            y2={Y_RANGE[1]}
            fill="none"
            fillOpacity={0}
            stroke="#9c9c9c"
            strokeWidth={1.3}
          />
          {SERIES_NAMES.map((name, i) => (
            <Scatter
              key={name}
              name={name}
              data={SERIES_DATA[i]}
              fill={SERIES_COLORS[i]}
              shape={makeDot(SERIES_COLORS[i])}
              isAnimationActive={false}
            />
          ))}
          <Legend
            layout="horizontal"
            verticalAlign="middle"
            align="center"
            wrapperStyle={{ left: 0, top: 1205, width: 996, height: 26 }}
            content={renderLegend}
          />
        </ScatterChart>
      </div>
    </div>
  );
}
